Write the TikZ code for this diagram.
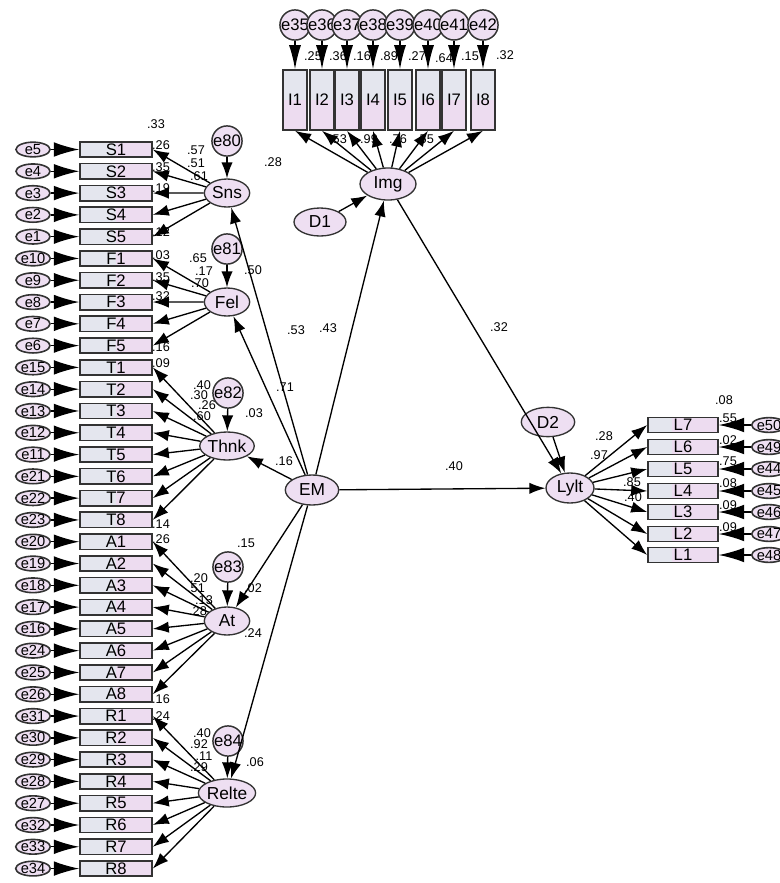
\documentclass[tikz,border=0pt]{standalone}
\usepackage{fontspec}
\setmainfont{Liberation Sans}
\usetikzlibrary{shapes.geometric,arrows.meta}

\definecolor{boxgray}{HTML}{E4E6EE}
\definecolor{boxpink}{HTML}{EDDCF0}
\definecolor{latfill}{HTML}{EEDFF2}
\definecolor{edgegray}{HTML}{333333}

\tikzset{
  lat/.style={ellipse, draw=edgegray, line width=1pt, fill=latfill, inner sep=0pt,
    minimum width=34pt, minimum height=21pt, font=\fontsize{13}{13}\selectfont},
  errl/.style={ellipse, draw=edgegray, line width=1.2pt, fill=latfill, inner sep=0pt,
    minimum width=25.5pt, minimum height=11pt, font=\fontsize{11}{11}\selectfont},
  errc/.style={circle, draw=edgegray, line width=1.1pt, fill=latfill, inner sep=0pt,
    minimum size=16.5pt, font=\fontsize{12.5}{12.5}\selectfont},
  ind/.style={draw=edgegray, line width=1.2pt, fill=boxpink, inner sep=0pt,
    minimum width=54pt, minimum height=11.5pt, font=\fontsize{12.5}{12.5}\selectfont,
    path picture={\fill[boxgray] (path picture bounding box.south west)
      rectangle (path picture bounding box.north);}},
  indv/.style={draw=edgegray, line width=1.2pt, fill=boxpink, inner sep=0pt,
    minimum width=18pt, minimum height=45pt, font=\fontsize{12.5}{12.5}\selectfont,
    path picture={\fill[boxgray] (path picture bounding box.north west)
      rectangle (path picture bounding box.east);}},
  indl/.style={draw=edgegray, line width=1.2pt, fill=boxpink, inner sep=0pt,
    minimum width=52.5pt, minimum height=11.5pt, font=\fontsize{12.5}{12.5}\selectfont,
    path picture={\fill[boxgray] (path picture bounding box.south west)
      rectangle ([xshift=18pt]path picture bounding box.north west);}},
  errarr/.style={-{Latex[length=19pt,width=11pt]}, line width=1pt},
  patharr/.style={-{Latex[length=12pt,width=8.5pt]}, line width=1pt},
  coef/.style={font=\fontsize{9.5}{9.5}\selectfont, inner sep=0pt}
}

\begin{document}
\begin{tikzpicture}[x=0.75pt,y=-0.75pt]
    \useasboundingbox (0,0) rectangle (780,883);

    % estimates (drawn first, arrows go over them)
    \foreach \txt/\px/\py [count=\n] in {.33/156/124, .28/273/162, .57/196/150, .51/196/163,
        .61/199/176, .65/198/258, .17/204/271, .70/200/283, .50/253/270, .40/202/385,
        .30/199/395, .26/207/405, .60/202/416, .03/254/413, .15/246/543, .20/199/578,
        .51/196/588, .13/204/600, .28/198/611, .02/253/588, .24/253/633, .40/202/733,
        .92/199/744, .11/204/756, .29/199/767, .06/255/762, .53/296/330, .43/328/328,
        .71/285/387, .16/284/461, .40/454/466, .32/499/327,
        .25/313/56, .36/338/56, .16/362/56, .89/389/56, .27/417/56, .64/444/58,
        .15/470/56, .32/505/55, .53/338/139, .99/369/139, .76/398/139, .55/425/139,
        .08/724/400, .55/728/418, .02/728/440, .75/728/461, .08/728/483, .09/728/505,
        .09/728/527, .28/604/436, .97/599/455, .85/632/482, .40/633/497,
        .26/161/145, .35/161/167, .19/161/188, .12/161/232, .03/161/255, .35/161/277,
        .32/161/296, .16/161/347, .09/161/363, .14/161/524, .26/161/539, .16/161/699,
        .24/161/716}
        \node[coef] (est\n) at (\px,\py) {\txt};

    % left indicators with their errors
    \foreach \lab/\err [count=\i from 0] in {S1/e5, S2/e4, S3/e3, S4/e2, S5/e1,
        F1/e10, F2/e9, F3/e8, F4/e7, F5/e6,
        T1/e15, T2/e14, T3/e13, T4/e12, T5/e11, T6/e21, T7/e22, T8/e23,
        A1/e20, A2/e19, A3/e18, A4/e17, A5/e16, A6/e24, A7/e25, A8/e26,
        R1/e31, R2/e30, R3/e29, R4/e28, R5/e27, R6/e32, R7/e33, R8/e34} {
        \node[ind] (\lab) at (116,{149.5+21.79*\i}) {\lab};
        \node[errl] (\err) at (33,{149.5+21.79*\i}) {\err};
        \draw[errarr] (\err) -- (\lab);
    }

    % image indicators
    \foreach \k/\px in {1/295, 2/322, 3/347, 4/373, 5/400, 6/428, 7/454, 8/483} {
        \node[indv] (I\k) at (\px,100) {I\k};
        \pgfmathtruncatemacro{\ek}{34+\k}
        \node[errc] (e\ek) at (\px,25) {e\ek};
        \draw[-{Latex[length=18pt,width=9pt]}, line width=1pt] (e\ek) -- (I\k);
    }

    % loyalty indicators
    \foreach \k/\err/\py in {7/e50/425, 6/e49/447, 5/e44/469, 4/e45/491,
        3/e46/512, 2/e47/534, 1/e48/555} {
        \node[indl] (L\k) at (683,\py) {L\k};
        \node[errl] (\err) at (769,\py) {\err};
        \draw[errarr] (\err) -- (L\k);
    }

    % latent variables
    \node[lat] (Sns) at (227,193) {Sns};
    \node[lat] (Fel) at (227,302) {Fel};
    \node[lat] (Thnk) at (227,446) {Thnk};
    \node[lat] (At) at (227,621) {At};
    \node[lat] (Relte) at (227,793) {Relte};
    \node[lat, minimum width=40pt, minimum height=22.5pt] (EM) at (312,490) {EM};
    \node[lat, minimum width=42pt, minimum height=24pt] (Img) at (388,184) {Img};
    \node[lat, minimum width=39pt, minimum height=21pt] (D1) at (320,222) {D1};
    \node[lat, minimum width=40pt, minimum height=22pt] (D2) at (548,422) {D2};
    \node[lat, minimum width=36pt, minimum height=22.5pt] (Lylt) at (570,488) {Lylt};

    \node[errc] (e80) at (227,141) {e80};
    \node[errc] (e81) at (227,249) {e81};
    \node[errc] (e82) at (228,393) {e82};
    \node[errc] (e83) at (228,567) {e83};
    \node[errc] (e84) at (228,741) {e84};

    \draw[patharr] (e80) -- (Sns);
    \draw[patharr] (e81) -- (Fel);
    \draw[patharr] (e82) -- (Thnk);
    \draw[patharr] (e83) -- (At);
    \draw[patharr] (e84) -- (Relte);

    % loadings
    \foreach \k in {1,...,5} \draw[patharr] (Sns) -- (S\k.east);
    \foreach \k in {1,...,5} \draw[patharr] (Fel) -- (F\k.east);
    \foreach \k in {1,...,8} \draw[patharr] (Thnk) -- (T\k.east);
    \foreach \k in {1,...,8} \draw[patharr] (At) -- (A\k.east);
    \foreach \k in {1,...,8} \draw[patharr] (Relte) -- (R\k.east);
    \foreach \k in {1,...,8} \draw[patharr] (Img) -- (I\k.south);
    \foreach \k in {1,...,7} \draw[patharr] (Lylt) -- (L\k.west);

    % structural paths
    \draw[patharr] (EM) -- (Sns);
    \draw[patharr] (EM) -- (Fel);
    \draw[patharr] (EM) -- (Thnk);
    \draw[patharr] (EM) -- (At);
    \draw[patharr] (EM) -- (Relte);
    \draw[patharr] (EM) -- (Img);
    \draw[patharr] (EM) -- (Lylt);
    \draw[patharr] (Img) -- (Lylt);
    \draw[patharr] (D1) -- (Img);
    \draw[patharr] (D2) -- (Lylt);
\end{tikzpicture}
\end{document}
